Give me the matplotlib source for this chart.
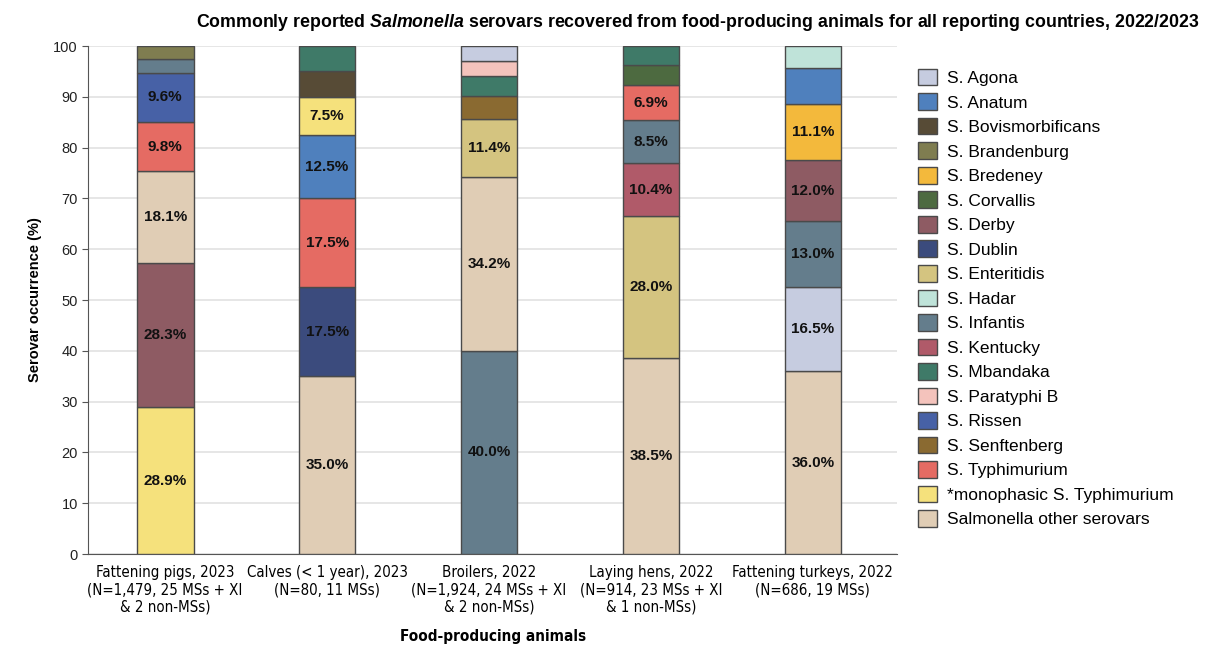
import matplotlib.pyplot as plt
from matplotlib.patches import Patch
from matplotlib import font_manager

serovars = ['S. Agona', 'S. Anatum', 'S. Bovismorbificans', 'S. Brandenburg', 'S. Bredeney',
            'S. Corvallis', 'S. Derby', 'S. Dublin', 'S. Enteritidis', 'S. Hadar',
            'S. Infantis', 'S. Kentucky', 'S. Mbandaka', 'S. Paratyphi B', 'S. Rissen',
            'S. Senftenberg', 'S. Typhimurium', '*monophasic S. Typhimurium',
            'Salmonella other serovars']
colours = ['#c6cce0', '#4f80bd', '#574b36', '#7f7d50', '#f3b93c',
           '#4d6a40', '#8e5b63', '#3b4b7d', '#d4c480', '#bfe3d9',
           '#647d8c', '#b05a69', '#3f7a68', '#f4c3bc', '#4761a6',
           '#8a6a31', '#e56b63', '#f5e17c', '#e0cdb5']

categories = ['Fattening pigs, 2023\n(N=1,479, 25 MSs + XI\n& 2 non-MSs)',
              'Calves (< 1 year), 2023\n(N=80, 11 MSs)',
              'Broilers, 2022\n(N=1,924, 24 MSs + XI\n& 2 non-MSs)',
              'Laying hens, 2022\n(N=914, 23 MSs + XI\n& 1 non-MSs)',
              'Fattening turkeys, 2022\n(N=686, 19 MSs)']

# segments of each bar, bottom to top
pigs_names = ['*monophasic S. Typhimurium', 'S. Derby', 'Salmonella other serovars',
              'S. Typhimurium', 'S. Rissen', 'S. Infantis', 'S. Brandenburg']
pigs_vals = [28.9, 28.3, 18.1, 9.8, 9.6, 2.7, 2.6]
calves_names = ['Salmonella other serovars', 'S. Dublin', 'S. Typhimurium', 'S. Anatum',
                '*monophasic S. Typhimurium', 'S. Bovismorbificans', 'S. Mbandaka']
calves_vals = [35.0, 17.5, 17.5, 12.5, 7.5, 5.0, 5.0]
broilers_names = ['S. Infantis', 'Salmonella other serovars', 'S. Enteritidis',
                  'S. Senftenberg', 'S. Mbandaka', 'S. Paratyphi B', 'S. Agona']
broilers_vals = [40.0, 34.2, 11.4, 4.6, 3.8, 3.1, 2.9]
hens_names = ['Salmonella other serovars', 'S. Enteritidis', 'S. Kentucky', 'S. Infantis',
              'S. Typhimurium', 'S. Corvallis', 'S. Mbandaka']
hens_vals = [38.5, 28.0, 10.4, 8.5, 6.9, 3.9, 3.8]
turkeys_names = ['Salmonella other serovars', 'S. Agona', 'S. Infantis', 'S. Derby',
                 'S. Bredeney', 'S. Anatum', 'S. Hadar']
turkeys_vals = [36.0, 16.5, 13.0, 12.0, 11.1, 7.1, 4.3]
# how many segments (from the bottom) carry a percentage label
n_labelled = [5, 5, 3, 5, 5]

bars = [(pigs_names, pigs_vals), (calves_names, calves_vals), (broilers_names, broilers_vals),
        (hens_names, hens_vals), (turkeys_names, turkeys_vals)]
colour_of = dict(zip(serovars, colours))

plt.rcParams['font.family'] = ['Liberation Sans', 'DejaVu Sans']
plt.rcParams['mathtext.fontset'] = 'custom'
plt.rcParams['mathtext.rm'] = 'Liberation Sans'
plt.rcParams['mathtext.it'] = 'Liberation Sans:italic:bold'
plt.rcParams['mathtext.bf'] = 'Liberation Sans:bold'

narrow = font_manager.FontProperties(family='DejaVu Sans', stretch='condensed', size=10.8)
narrow_bold = font_manager.FontProperties(family='DejaVu Sans', stretch='condensed',
                                          weight='bold', size=11)

fig = plt.figure(figsize=(12.09, 6.48), dpi=100)
ax = fig.add_axes([0.073, 0.145, 0.669, 0.784])

for i, (names, vals) in enumerate(bars):
    bottom = 0
    for k, (name, v) in enumerate(zip(names, vals)):
        ax.bar(i, v, bottom=bottom, width=0.35, color=colour_of[name],
               edgecolor='#4a4a4a', linewidth=1, zorder=3)
        if k < n_labelled[i]:
            ax.text(i, bottom + v / 2, f'{v:.1f}%', ha='center', va='center',
                    fontsize=11, fontweight='bold', color='#111111', zorder=4)
        bottom += v

ax.set_xlim(-0.475, 4.52)
ax.set_ylim(0, 100)
ax.set_yticks(range(0, 101, 10))
ax.set_xticks(range(5))
ax.set_xticklabels(categories, fontproperties=narrow)
ax.tick_params(axis='x', length=0, pad=8)
ax.tick_params(axis='y', labelsize=10.5, length=4, color='#555555', labelcolor='#222222')
ax.yaxis.grid(True, color='#e2e2e2', linewidth=1.2, zorder=0)
for s in ['top', 'right']:
    ax.spines[s].set_visible(False)
ax.spines['left'].set_color('#555555')
ax.spines['bottom'].set_color('#555555')

ax.set_ylabel('Serovar occurrence (%)', fontsize=10.5, fontweight='bold', labelpad=8)
ax.set_xlabel('Food-producing animals', fontproperties=narrow_bold, labelpad=10)

fig.text(0.577, 0.966, 'Commonly reported $\\it{Salmonella}$ serovars recovered from food-producing animals for all reporting countries, 2022/2023',
         ha='center', va='center', fontsize=12.8, fontweight='bold')

handles = [Patch(facecolor=c, edgecolor='#4a4a4a', label=n) for n, c in zip(serovars, colours)]
fig.legend(handles=handles, loc='upper left', bbox_to_anchor=(0.746, 0.918), frameon=False,
           fontsize=12.5, handlelength=1.1, handleheight=1.1, labelspacing=0.42, handletextpad=0.6)

fig.savefig('out.png', dpi=100)
